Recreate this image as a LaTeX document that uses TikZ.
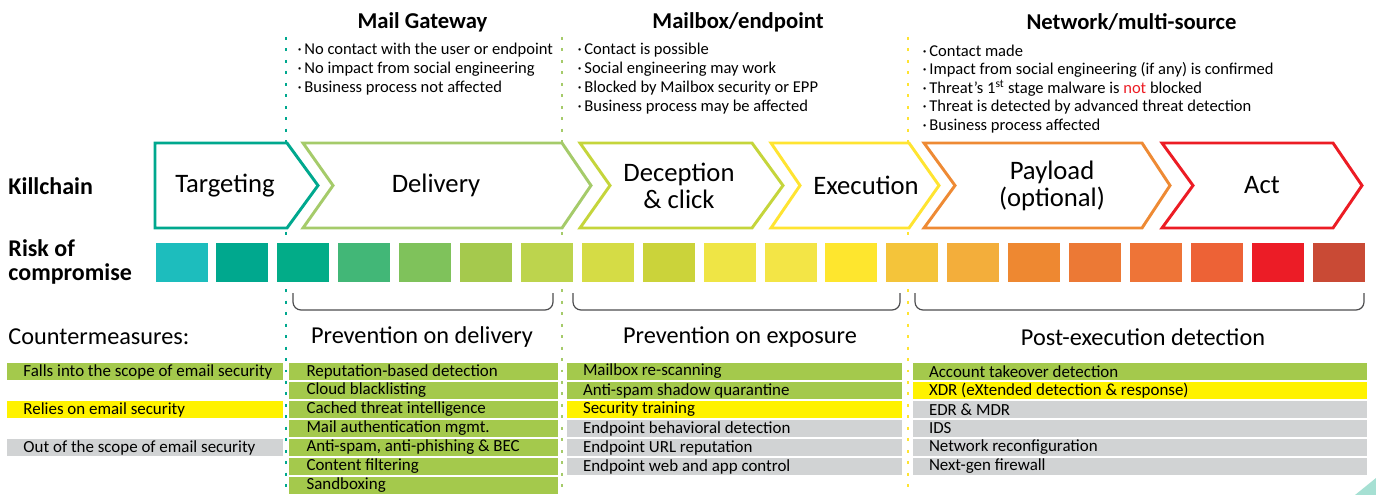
\documentclass[tikz,border=0pt]{standalone}
\usepackage{fontspec}
\setmainfont{Carlito}

\definecolor{kteal}{HTML}{00A88E}
\definecolor{kgreen}{HTML}{A5CB6A}
\definecolor{klime}{HTML}{C5D53B}
\definecolor{kyellow}{HTML}{FFE431}
\definecolor{korange}{HTML}{EE8A34}
\definecolor{kred}{HTML}{EC1C24}
\definecolor{cmgreen}{HTML}{A4C94C}
\definecolor{cmyellow}{HTML}{FFF200}
\definecolor{cmgray}{HTML}{D1D3D4}
\definecolor{bracegray}{HTML}{4D4D4F}
\definecolor{cornermint}{HTML}{A6E0D3}
\definecolor{notred}{HTML}{EC1C24}
\definecolor{sqa}{HTML}{1DBDBD}
\definecolor{sqb}{HTML}{00A88E}
\definecolor{sqc}{HTML}{02AC88}
\definecolor{sqd}{HTML}{42B777}
\definecolor{sqe}{HTML}{7FC25B}
\definecolor{sqf}{HTML}{A5C94D}
\definecolor{sqg}{HTML}{BDD44D}
\definecolor{sqh}{HTML}{D5DC45}
\definecolor{sqi}{HTML}{CBD33A}
\definecolor{sqj}{HTML}{EFE545}
\definecolor{sqk}{HTML}{F3E546}
\definecolor{sql}{HTML}{FEE62E}
\definecolor{sqm}{HTML}{F4C43A}
\definecolor{sqn}{HTML}{F3AE3B}
\definecolor{sqo}{HTML}{EE8831}
\definecolor{sqp}{HTML}{EC7935}
\definecolor{sqq}{HTML}{EE7437}
\definecolor{sqr}{HTML}{ED6236}
\definecolor{sqs}{HTML}{EC1C26}
\definecolor{sqt}{HTML}{C94A35}

\tikzset{every picture/.style={line width=0.75pt}}
\tikzset{
  chev/.style={line width=2.2pt, fill=white, line join=miter},
  chevlbl/.style={font=\fontsize{20}{20.25}\selectfont, align=center, inner sep=0},
  hdr/.style={font=\bfseries\fontsize{17}{20}\selectfont, inner sep=0},
  bul/.style={font=\fontsize{12.4}{14}\selectfont, anchor=west, inner sep=0},
  sidelbl/.style={font=\bfseries\fontsize{18}{20}\selectfont, anchor=west, inner sep=0},
  grplbl/.style={font=\fontsize{18.2}{20}\selectfont, inner sep=0},
  cmtext/.style={font=\fontsize{12.7}{14}\selectfont, anchor=west, inner sep=0},
  sepline/.style={line width=1.9pt, dash pattern=on 2.2pt off 6.4pt},
  grpbrace/.style={line width=0.9pt, draw=bracegray, rounded corners=6pt},
}

\begin{document}
\begin{tikzpicture}[x=0.75pt,y=0.75pt,yscale=-1,xscale=1]
	\useasboundingbox (0,0) rectangle (1376,495);

	%Straight Lines: stage separators
	\draw [sepline, kteal] (286,37) -- (286,495) ;
	\draw [sepline, kgreen] (562,37) -- (562,495) ;
	\draw [sepline, kyellow] (908,37) -- (908,495) ;

	% Text Node: stage headers
	\draw (422.5,22) node [hdr] (hgate) {Mail Gateway};
	\draw (738,22) node [hdr] (hbox) {Mailbox/endpoint};
	\draw (1131.5,22) node [hdr] (hnet) {Network/multi-source};

	% Text Node: stage notes
	\foreach \t [count=\i] in {No contact with the user or endpoint, No impact from social engineering, Business process not affected}
	  \draw (297,{50.5+19*(\i-1)}) node [bul] (ngate\i) {·\,\t};
	\foreach \t [count=\i] in {Contact is possible, Social engineering may work, Blocked by Mailbox security or EPP, Business process may be affected}
	  \draw (577,{50.5+19*(\i-1)}) node [bul] (nbox\i) {·\,\t};
	\foreach \t [count=\i] in {Contact made, Impact from social engineering (if any) is confirmed, {Threat’s 1\textsuperscript{st} stage malware is \textcolor{notred}{not} blocked}, Threat is detected by advanced threat detection, Business process affected}
	  \draw (922,{50.5+19*(\i-1)}) node [bul] (nnet\i) {·\,\t};

	% Text Node: row labels
	\draw (8,186) node [sidelbl] (lkill) {Killchain};
	\draw (8,248) node [sidelbl] (lrisk) {Risk of};
	\draw (8,274) node [sidelbl] (lcomp) {compromise};

	%Shape: Chevrons
	\draw [chev, draw=kteal] (155,143) -- (287,143) -- (318,185.5) -- (287,228) -- (155,228) -- cycle ;
	\draw [chev, draw=kgreen] (303,143) -- (562,143) -- (591,185.5) -- (562,228) -- (303,228) -- (333,185.5) -- cycle ;
	\draw [chev, draw=klime] (580,143) -- (752,143) -- (783,185.5) -- (752,228) -- (580,228) -- (610,185.5) -- cycle ;
	\draw [chev, draw=kyellow] (771,143) -- (909,143) -- (939,185.5) -- (909,228) -- (771,228) -- (800,185.5) -- cycle ;
	\draw [chev, draw=korange] (924,143) -- (1142,143) -- (1170,185.5) -- (1142,228) -- (924,228) -- (955,185.5) -- cycle ;
	\draw [chev, draw=kred] (1162,143) -- (1333,143) -- (1362,185.5) -- (1333,228) -- (1162,228) -- (1193,185.5) -- cycle ;

	% Text Node: chevron labels
	\draw (225,185.5) node [chevlbl] (ktarget) {Targeting};
	\draw (436,185.5) node [chevlbl] (kdeliver) {Delivery};
	\draw (679,185.5) node [chevlbl] (kdecept) {Deception\\\& click};
	\draw (866,185.5) node [chevlbl] (kexec) {Execution};
	\draw (1052,185.5) node [chevlbl] (kpay) {Payload\\(optional)};
	\draw (1262,185.5) node [chevlbl] (kact) {Act};

	%Shape: Risk squares
	\foreach \c [count=\i from 0] in {sqa,sqb,sqc,sqd,sqe,sqf,sqg,sqh,sqi,sqj,sqk,sql,sqm,sqn,sqo,sqp,sqq,sqr,sqs,sqt}
	  \fill [\c] ({155.5+60.9*\i},243) rectangle ({207.5+60.9*\i},281.5) ;

	%Shape: Group braces
	\draw [grpbrace] (293,293) -- (293,310) -- (553,310) -- (553,293) ;
	\draw [grpbrace] (573,293) -- (573,310) -- (900,310) -- (900,293) ;
	\draw [grpbrace] (915,293) -- (915,310) -- (1364,310) -- (1364,293) ;

	% Text Node: group labels
	\draw (8,337) node [grplbl, anchor=west] (lcm) {Countermeasures:};
	\draw (422,337) node [grplbl] (gdeliv) {Prevention on delivery};
	\draw (740,337) node [grplbl] (gexpo) {Prevention on exposure};
	\draw (1143,337) node [grplbl] (gpost) {Post-execution detection};

	%Shape: Legend rows
	\foreach \n/\c/\t in {1/cmgreen/Falls into the scope of email security, 3/cmyellow/Relies on email security, 5/cmgray/Out of the scope of email security} {
	  \fill [\c] (7,{363+19*(\n-1)}) rectangle (283,{379.5+19*(\n-1)}) ;
	  \draw (23,{371.5+19*(\n-1)}) node [cmtext] (leg\n) {\t};
	}

	%Shape: Countermeasure rows
	\foreach \n/\c/\t in {1/cmgreen/Reputation-based detection, 2/cmgreen/Cloud blacklisting, 3/cmgreen/Cached threat intelligence, 4/cmgreen/Mail authentication mgmt., 5/cmgreen/{Anti-spam, anti-phishing \& BEC}, 6/cmgreen/Content filtering, 7/cmgreen/Sandboxing} {
	  \fill [\c] (289,{363+19*(\n-1)}) rectangle (558,{379.5+19*(\n-1)}) ;
	  \draw (306,{371.5+19*(\n-1)}) node [cmtext] (cdel\n) {\t};
	}
	\foreach \n/\c/\t in {1/cmgreen/Mailbox re-scanning, 2/cmgreen/Anti-spam shadow quarantine, 3/cmyellow/Security training, 4/cmgray/Endpoint behavioral detection, 5/cmgray/Endpoint URL reputation, 6/cmgray/Endpoint web and app control} {
	  \fill [\c] (567,{363+19*(\n-1)}) rectangle (902,{379.5+19*(\n-1)}) ;
	  \draw (582.5,{371.5+19*(\n-1)}) node [cmtext] (cexp\n) {\t};
	}
	\foreach \n/\c/\t in {1/cmgreen/Account takeover detection, 2/cmyellow/{XDR (eXtended detection \& response)}, 3/cmgray/EDR \& MDR, 4/cmgray/IDS, 5/cmgray/Network reconfiguration, 6/cmgray/Next-gen firewall} {
	  \fill [\c] (913,{363+19*(\n-1)}) rectangle (1367,{379.5+19*(\n-1)}) ;
	  \draw (928.5,{371.5+19*(\n-1)}) node [cmtext] (cpost\n) {\t};
	}

	%Shape: Corner mark
	\fill [cornermint] (1355,495) -- (1376,478) -- (1376,495) -- cycle ;

\end{tikzpicture}
\end{document}
